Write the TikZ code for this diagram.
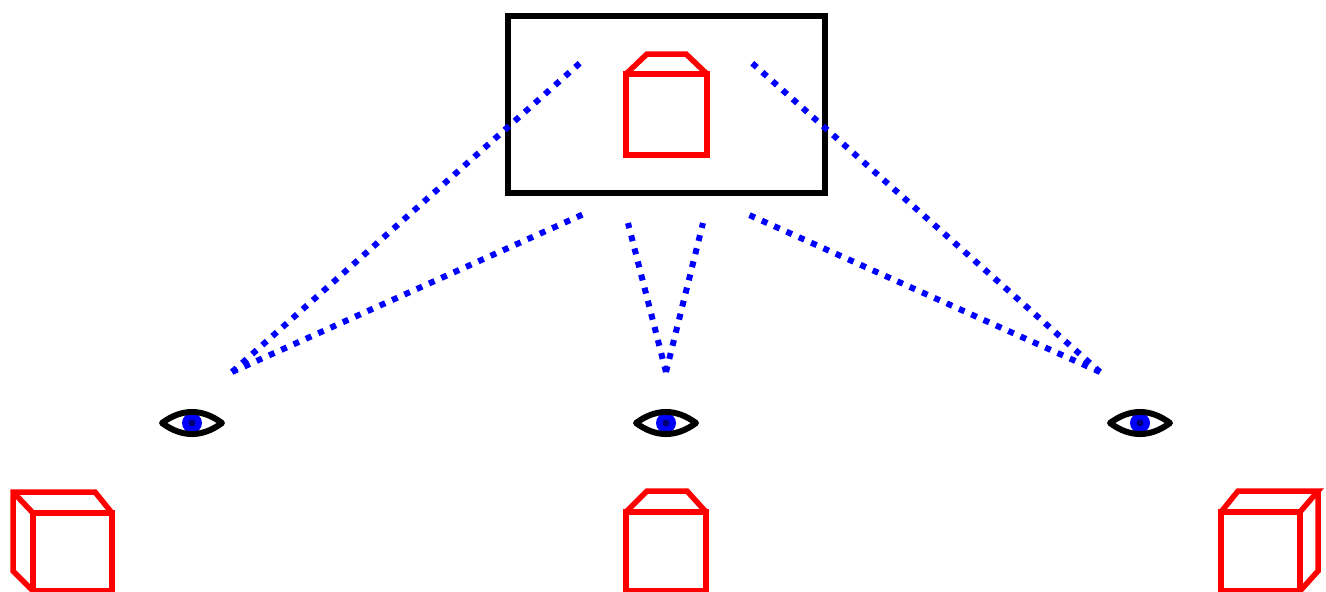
\documentclass[tikz,border=0pt]{standalone}
\begin{document}
\begin{tikzpicture}
[x=1pt,y=-1pt,%
  cube/.style={draw=red,line width=5.5pt,line join=miter},%
  sight/.style={draw=blue,line width=6pt,dash pattern=on 6pt off 7.5pt},%
  lid/.style={draw=black,line width=6pt,line join=round},%
  iris/.style={fill=blue},%
  pupil/.style={fill=blue!45!black}]
\useasboundingbox (0,0) rectangle (1326,592);
% screen with the cube seen from the front
\node[draw,line width=6pt,inner sep=0pt,minimum width=317pt,minimum height=177pt] (screen) at (666,104.5) {};
\draw[cube] (626,74) rectangle (707,155);
\draw[cube] (626,74) -- (647,54) -- (686,54) -- (707,74);
% eyes
\foreach \e/\x in {eyeL/192,eyeM/666,eyeR/1140}
{
  \coordinate (\e) at (\x,423);
  \begin{scope}[shift={(\e)}]
    \fill[iris] (0,0) circle (10pt);
    \fill[pupil] (0,0) circle (3.5pt);
    \draw[lid] (-30,0) .. controls (-10,-14.7) and (10,-14.7) .. (30,0)
      .. controls (10,14.7) and (-10,14.7) .. (-30,0) -- cycle;
  \end{scope}
}
% lines of sight
\coordinate (viewL) at (232,372);
\coordinate (viewM) at (666,372);
\coordinate (viewR) at (1100,372);
\coordinate (hitL1) at (580,63);
\coordinate (hitL2) at (586,213);
\coordinate (hitM1) at (628,223);
\coordinate (hitM2) at (703,223);
\coordinate (hitR1) at (752,63);
\coordinate (hitR2) at (747,214);
\draw[sight] (viewL) -- (hitL1);
\draw[sight] (viewL) -- (hitL2);
\draw[sight] (viewM) -- (hitM1);
\draw[sight] (viewM) -- (hitM2);
\draw[sight] (viewR) -- (hitR1);
\draw[sight] (viewR) -- (hitR2);
% cubes below the eyes
\draw[cube] (33,513) rectangle (112,591);
\draw[cube] (112,513) -- (95,492) -- (13,492) -- (13,571) -- (33,591);
\draw[cube] (13,492) -- (33,513);
\draw[cube] (626,512) rectangle (706,591);
\draw[cube] (626,512) -- (647,491) -- (687,491) -- (706,512);
\draw[cube] (1221,512) rectangle (1300,591);
\draw[cube] (1221,512) -- (1238,491) -- (1318,491) -- (1300,512);
\draw[cube] (1318,491) -- (1318,571) -- (1300,591);
\end{tikzpicture}
\end{document}
